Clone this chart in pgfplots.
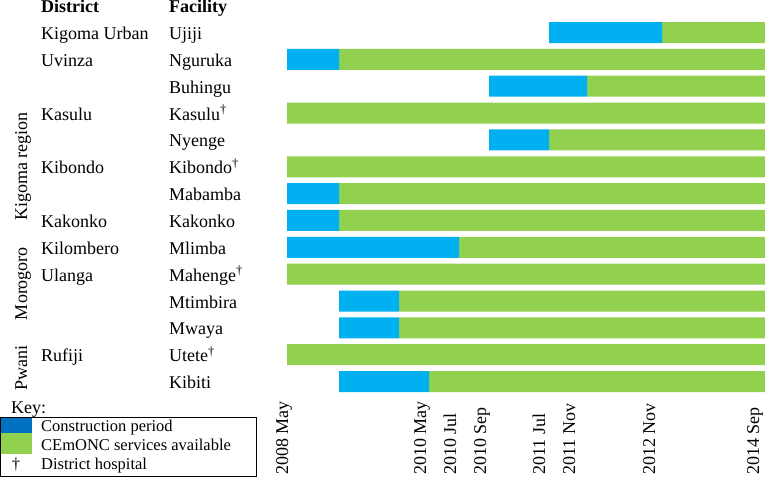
\documentclass[border=0pt]{standalone}
\usepackage{fontspec}
\setmainfont{Liberation Serif}
\usepackage{pgfplots}
\usepackage{pgfplotstable}
\pgfplotsset{compat=1.18}
\definecolor{barblue}{RGB}{0,176,240}
\definecolor{bargreen}{RGB}{146,208,80}
\definecolor{keyblue}{RGB}{0,112,192}
% columns: row (0 = bottom), offset before construction, construction period, CEmONC services available
% x unit = the chart's own (non-linear) time scale, 0 = 2008 May, 478 = 2014 Sep
\pgfplotstableread{
row off blue green
13 262 113 103
12 0 52 426
11 202 98 178
10 0 0 478
9 202 60 216
8 0 0 478
7 0 52 426
6 0 52 426
5 0 172 306
4 0 0 478
3 52 60 366
2 52 60 366
1 0 0 478
0 52 90 336
}\facilities
\newcommand{\mainsize}{\fontsize{18bp}{20bp}\selectfont}
\newcommand{\keysize}{\fontsize{16.5bp}{18bp}\selectfont}
\begin{document}
\begin{tikzpicture}[font=\mainsize]
\useasboundingbox (0,0) rectangle (765bp,-477bp);
\begin{axis}[
  at={(287bp,-19.075bp)}, anchor=north west,
  scale only axis, width=478bp, height=375.9bp,
  xmin=0, xmax=478, ymin=-0.5, ymax=13.5,
  enlargelimits=false,
  xbar stacked, bar width=21bp,
  axis line style={draw=none},
  major tick length=0pt,
  tick label style={font=\mainsize},
  ytick={0,...,13},
  yticklabels={Kibiti, Utete\textsuperscript{†}, Mwaya, Mtimbira, Mahenge\textsuperscript{†}, Mlimba, Kakonko, Mabamba, Kibondo\textsuperscript{†}, Nyenge, Kasulu\textsuperscript{†}, Buhingu, Nguruka, Ujiji},
  yticklabel style={anchor=base west, inner sep=0pt, xshift=-118bp, yshift=-7bp},
  xtick={1,139,169,199,258,288,368,472},
  xticklabels={2008 May, 2010 May, 2010 Jul, 2010 Sep, 2011 Jul, 2011 Nov, 2012 Nov, 2014 Sep},
  xticklabel style={yshift=-80bp, rotate=90, anchor=base west, inner sep=0pt},
]
\addplot[draw=none, fill=none, forget plot] table[x=off, y=row] {\facilities};
\addplot[draw=none, fill=barblue, forget plot] table[x=blue, y=row] {\facilities};
\addplot[draw=none, fill=bargreen, forget plot] table[x=green, y=row] {\facilities};
\end{axis}
% headers
\node[anchor=base west, inner sep=0pt] at (41bp,-12.65bp) {\bfseries District};
\node[anchor=base west, inner sep=0pt] at (169bp,-12.65bp) {\bfseries Facility};
% districts
\foreach \r/\t in {0/Kigoma Urban, 1/Uvinza, 3/Kasulu, 5/Kibondo, 7/Kakonko, 8/Kilombero, 9/Ulanga, 12/Rufiji}{
  \node[anchor=base west, inner sep=0pt] at (41bp,{-(39.5+26.85*\r)*1bp}) {\t};
}
% regions
\node[rotate=90, anchor=base, inner sep=0pt] at (27bp,-166.5bp) {Kigoma region};
\node[rotate=90, anchor=base, inner sep=0pt] at (27bp,-283.5bp) {Morogoro};
\node[rotate=90, anchor=base, inner sep=0pt] at (27bp,-368bp) {Pwani};
% key
\node[anchor=base west, inner sep=0pt] at (11bp,-413bp) {Key:};
\fill[keyblue] (0.5bp,-417bp) rectangle (32bp,-433bp);
\fill[bargreen] (0.5bp,-433bp) rectangle (32bp,-454bp);
\draw[line width=0.8bp] (0.5bp,-417bp) rectangle (256bp,-476.5bp);
\node[anchor=base west, inner sep=0pt, font=\keysize] at (41bp,-431bp) {Construction period};
\node[anchor=base west, inner sep=0pt, font=\keysize] at (41bp,-450.7bp) {CEmONC services available};
\node[anchor=base west, inner sep=0pt, font=\keysize] at (41bp,-469bp) {District hospital};
\node[anchor=base, inner sep=0pt, font=\keysize] at (16bp,-469bp) {†};
\end{tikzpicture}
\end{document}
